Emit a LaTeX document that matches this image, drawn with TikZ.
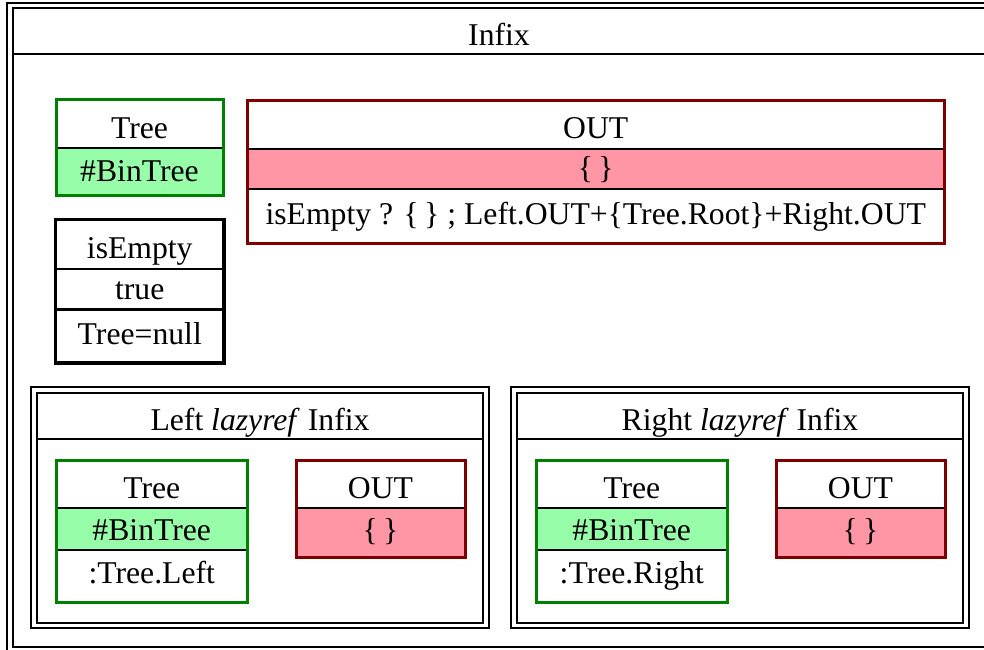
\documentclass[tikz,border=0pt]{standalone}
\usepackage{fontspec}
\setmainfont{Liberation Serif}
\definecolor{boxgreen}{RGB}{0,128,0}
\definecolor{fillgreen}{RGB}{152,253,168}
\definecolor{boxred}{RGB}{128,0,0}
\definecolor{fillpink}{RGB}{255,150,165}
\begin{document}
\begin{tikzpicture}[x=0.5bp,y=-0.5bp,
  lbl/.style={anchor=base,inner sep=0pt,font=\fontsize{15.9}{19}\selectfont},
  framerule/.style={draw=black,line width=1bp},
  rowrule/.style={draw=black,line width=1bp},
  greenbox/.style={draw=boxgreen,line width=1.5bp},
  redbox/.style={draw=boxred,line width=1.5bp},
  blackbox/.style={draw=black,line width=1.7bp},
  pics/lazyblock/.style n args={2}{code={
    % double frame with title bar
    \draw[framerule] (31,387) rectangle (489,628);
    \draw[framerule] (37,393) rectangle (483,622.5);
    \draw[rowrule] (37,439) -- (483,439);
    \node[lbl] (-title) at (260,430) {#1 \textit{lazyref} Infix};
    % Tree attribute
    \fill[fillgreen] (56.5,508) rectangle (247,550);
    \draw[rowrule] (56.5,508) -- (247,508);
    \draw[rowrule] (56.5,550) -- (247,550);
    \draw[greenbox] (56.5,460) rectangle (247,602);
    \node[lbl] (-tree) at (151.75,498) {Tree};
    \node[lbl] (-type) at (151.75,540) {\#BinTree};
    \node[lbl] (-bind) at (151.75,583) {#2};
    % OUT attribute
    \fill[fillpink] (296,508) rectangle (465,557);
    \draw[rowrule] (296,508) -- (465,508);
    \draw[redbox] (296,460) rectangle (465,557);
    \node[lbl] (-out) at (380.5,498) {OUT};
    \node[lbl] (-outval) at (380.5,540) {\{\,\}};
  }}]
\useasboundingbox (0,0) rectangle (984,650);
\clip (0,0) rectangle (984,650);

% outer double frame
\draw[framerule] (7,3.5) rectangle (991,660);
\draw[framerule] (13,8.5) rectangle (986,647);
\draw[framerule] (13,54) -- (986,54);
\node[lbl] (infix) at (499,46) {Infix};

% Tree attribute
\fill[fillgreen] (56,148.5) rectangle (223,196);
\draw[rowrule] (56,148.5) -- (223,148.5);
\draw[greenbox] (56,100) rectangle (223,196);
\node[lbl] (tree) at (139.5,139) {Tree};
\node[lbl] (treetype) at (139.5,182) {\#BinTree};

% OUT attribute
\fill[fillpink] (247,149) rectangle (944.5,189.5);
\draw[rowrule] (247,149) -- (944.5,149);
\draw[rowrule] (247,189.5) -- (944.5,189.5);
\draw[redbox] (247,100.5) rectangle (944.5,244);
\node[lbl] (out) at (595.75,139) {OUT};
\node[lbl] (outval) at (595.75,179) {\{\,\}};
\node[lbl] (outrule) at (595.75,225) {isEmpty ? \{\,\} ; Left.OUT+\{Tree.Root\}+Right.OUT};

% isEmpty condition
\draw[rowrule] (55.5,269) -- (224,269);
\draw[rowrule] (55.5,309.5) -- (224,309.5);
\draw[blackbox] (55.5,219.5) rectangle (224,363);
\node[lbl] (isempty) at (139.75,259) {isEmpty};
\node[lbl] (truev) at (139.75,299) {true};
\node[lbl] (cond) at (139.75,344) {Tree=null};

% child instances
\pic (left) at (0,0) {lazyblock={Left}{:Tree.Left}};
\pic (right) at (480,0) {lazyblock={Right}{:Tree.Right}};
\end{tikzpicture}
\end{document}
